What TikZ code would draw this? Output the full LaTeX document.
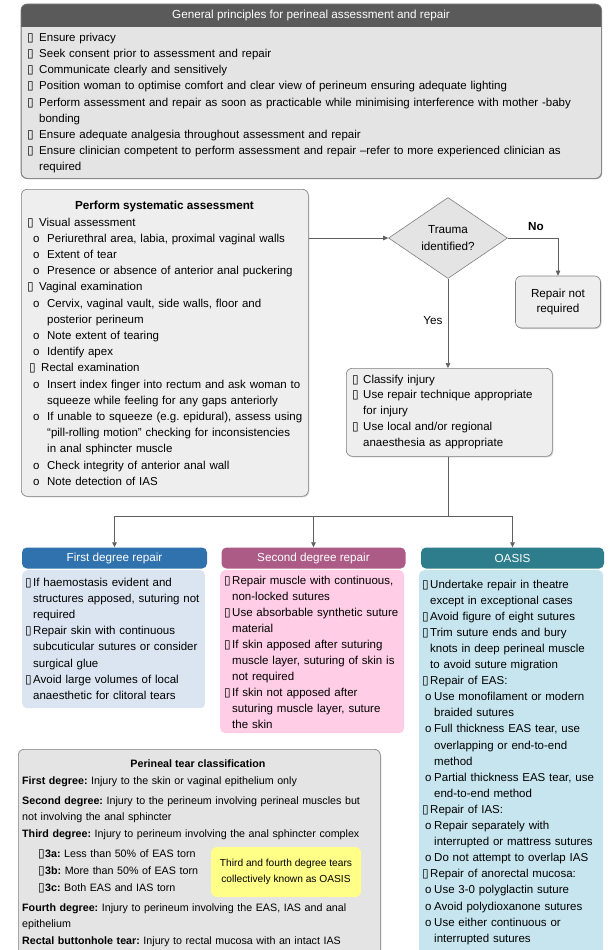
\documentclass[tikz,border=0pt]{standalone}
\usepackage{fontspec}
\setmainfont{Liberation Sans}
\newfontfamily\dvs{DejaVu Sans}
\usetikzlibrary{arrows.meta,shapes.geometric,shadows}
\definecolor{hdrgray}{HTML}{5A5A5A}
\definecolor{bodygray}{HTML}{E4E4E4}
\definecolor{boxgray}{HTML}{EEEEEE}
\definecolor{edgegray}{HTML}{7F7F7F}
\definecolor{linegray}{HTML}{606060}
\definecolor{fdh}{HTML}{2F72AD}
\definecolor{fdb}{HTML}{DAE5F1}
\definecolor{sdh}{HTML}{AC5B87}
\definecolor{sdb}{HTML}{FFCDE6}
\definecolor{oah}{HTML}{2D7D8C}
\definecolor{oab}{HTML}{C7E5EE}
\definecolor{yel}{HTML}{FFFF88}
\newlength\lbw \newlength\lo \newlength\lsw
\newcommand\bxg{{\dvs\fontsize{12}{12}\selectfont ▯}}
\newcommand\pli[1]{\hangindent=\lbw\hangafter=1\noindent\makebox[\lbw][l]{\bxg}#1\par}
\newcommand\pliO[2]{\hangindent=\dimexpr\lbw+#1\relax\hangafter=1\noindent\hspace*{#1}\makebox[\lbw][l]{\bxg}#2\par}
\newcommand\plii[1]{\hangindent=\dimexpr\lo+\lsw\relax\hangafter=1\noindent\hspace*{\lo}\makebox[\lsw][l]{o}#1\par}
\newcommand\nl{\newline}
\tikzset{
  graybox/.style={draw=edgegray, line width=0.6pt, rounded corners=6pt, inner sep=0pt,
    drop shadow={shadow xshift=1pt, shadow yshift=-1pt, opacity=0.35}},
  txt/.style={anchor=base west, inner sep=0pt, text width=#1, align=left,
    font=\frenchspacing\fontsize{11.5}{16.2}\selectfont},
  ctxt/.style={anchor=base west, inner sep=0pt, text width=#1, align=left,
    font=\frenchspacing\fontsize{10.7}{16}\selectfont},
  hdr/.style={rounded corners=5pt, minimum height=21, inner sep=0pt, text=white,
    font=\fontsize{11.7}{14}\selectfont},
  bodybox/.style={rounded corners=5pt, inner sep=0pt, anchor=north west},
  ln/.style={draw=linegray, line width=0.7pt},
  arr/.style={ln, -{Triangle[length=5pt,width=4.5pt]}},
  lbl/.style={inner sep=0pt, font=\fontsize{11.7}{14}\selectfont}
}
\begin{document}
\frenchspacing
\begin{tikzpicture}[x=1pt,y=-1pt]
\fill[white] (0,0) rectangle (608,950);
\useasboundingbox (0,0) rectangle (608,950);

% ---------- General principles ----------
\node[graybox, fill=bodygray, minimum width=580, minimum height=174, anchor=north west] (gp) at (21,4) {};
\begin{scope}
\clip[rounded corners=6pt] (gp.north west) rectangle (gp.south east);
\fill[hdrgray] (gp.north west) rectangle ([yshift=-23pt]gp.north east);
\end{scope}
\draw[edgegray, line width=0.6pt, rounded corners=6pt] (gp.north west) rectangle (gp.south east);
\node[lbl, text=white] (gptitle) at (311,15.5) {General principles for perineal assessment and repair};
\node[txt=570pt] (gptxt) at (27,41.3) {\setlength\lbw{12pt}%
\pli{Ensure privacy}%
\pli{Seek consent prior to assessment and repair}%
\pli{Communicate clearly and sensitively}%
\pli{Position woman to optimise comfort and clear view of perineum ensuring adequate lighting}%
\pli{Perform assessment and repair as soon as practicable while minimising interference with mother -baby\nl bonding}%
\pli{Ensure adequate analgesia throughout assessment and repair}%
\pli{Ensure clinician competent to perform assessment and repair –refer to more experienced clinician as\nl required}};

% ---------- Systematic assessment ----------
\node[graybox, fill=boxgray, minimum width=287, minimum height=307, anchor=north west] (assess) at (21,189) {};
\node[lbl, anchor=base, font=\bfseries\fontsize{11.7}{14}\selectfont] (astitle) at (164.5,209.5) {Perform systematic assessment};
\node[txt=285pt] (astxt) at (27,226) {\setlength\lbw{12pt}\setlength\lo{6pt}\setlength\lsw{14pt}%
\pli{Visual assessment}%
\plii{Periurethral area, labia, proximal vaginal walls}%
\plii{Extent of tear}%
\plii{Presence or absence of anterior anal puckering}%
\pli{Vaginal examination}%
\plii{Cervix, vaginal vault, side walls, floor and\nl posterior perineum}%
\plii{Note extent of tearing}%
\plii{Identify apex}%
\pliO{2pt}{Rectal examination}%
\plii{Insert index finger into rectum and ask woman to\nl squeeze while feeling for any gaps anteriorly}%
\plii{If unable to squeeze (e.g. epidural), assess using\nl “pill-rolling motion” checking for inconsistencies\nl in anal sphincter muscle}%
\plii{Check integrity of anterior anal wall}%
\plii{Note detection of IAS}};

% ---------- Decision ----------
\node[diamond, draw=edgegray, line width=0.6pt, fill=bodygray, minimum width=119, minimum height=81,
  inner sep=0pt, align=center, font=\fontsize{11.7}{17}\selectfont] (trauma) at (448,238) {Trauma\\identified?};
\node[lbl, font=\bfseries\fontsize{11.7}{14}\selectfont] (nolab) at (536,227) {No};
\node[graybox, fill=boxgray, minimum width=85, minimum height=52, align=center,
  font=\fontsize{11.7}{15.5}\selectfont] (norep) at (558,302) {Repair not\\required};
\node[lbl] (yeslab) at (433,321) {Yes};

\node[graybox, fill=boxgray, minimum width=206, minimum height=88, anchor=north west] (classify) at (346,368) {};
\node[txt=200pt, font=\fontsize{11.5}{15.9}\selectfont] (cltxt) at (352,383) {\setlength\lbw{11pt}%
\pli{Classify injury}%
\pli{Use repair technique appropriate\nl for injury}%
\pli{Use local and/or regional\nl anaesthesia as appropriate}};

% ---------- Repair headers ----------
\node[hdr, fill=fdh, minimum width=185] (h1) at (114.5,558) {First degree repair};
\node[hdr, fill=sdh, minimum width=184] (h2) at (313.5,558) {Second degree repair};
\node[hdr, fill=oah, minimum width=183] (h3) at (512.5,558) {OASIS};

% ---------- Connectors ----------
\draw[arr] (assess.east |- trauma.west) -- (trauma.west);
\draw[arr] (trauma.east) -| (norep.north);
\draw[arr] (trauma.south) -- (trauma.south |- classify.north);
\coordinate (split) at (448,516);
\draw[ln] (classify.south -| split) -- (split);
\draw[ln] (h1.north |- split) -- (h3.north |- split);
\draw[arr] (h1.north |- split) -- (h1.north);
\draw[arr] (h2.north |- split) -- (h2.north);
\draw[arr] (h3.north |- split) -- (h3.north);

% ---------- Repair bodies ----------
\node[bodybox, fill=fdb, minimum width=183, minimum height=138] (b1) at (22,570) {};
\node[txt=180pt] (b1txt) at (25,586) {\setlength\lbw{8pt}%
\pli{If haemostasis evident and\nl structures apposed, suturing not\nl required}%
\pli{Repair skin with continuous\nl subcuticular sutures or consider\nl surgical glue}%
\pli{Avoid large volumes of local\nl anaesthetic for clitoral tears}};

\node[bodybox, fill=sdb, minimum width=184, minimum height=163] (b2) at (220,570) {};
\node[txt=180pt, font=\frenchspacing\fontsize{11.5}{16.1}\selectfont] (b2txt) at (224,584) {\setlength\lbw{8pt}%
\pli{Repair muscle with continuous,\nl non-locked sutures}%
\pli{Use absorbable synthetic suture\nl material}%
\pli{If skin apposed after suturing\nl muscle layer, suturing of skin is\nl not required}%
\pli{If skin not apposed after\nl suturing muscle layer, suture\nl the skin}};

\node[bodybox, fill=oab, minimum width=184, minimum height=395] (b3) at (419,570) {};
\node[txt=182pt, font=\frenchspacing\fontsize{11.5}{16.1}\selectfont] (b3txt) at (422,588) {\setlength\lbw{8pt}\setlength\lo{3pt}\setlength\lsw{9pt}%
\pli{Undertake repair in theatre\nl except in exceptional cases}%
\pli{Avoid figure of eight sutures}%
\pli{Trim suture ends and bury\nl knots in deep perineal muscle\nl to avoid suture migration}%
\pli{Repair of EAS:}%
\plii{Use monofilament or modern\nl braided sutures}%
\plii{Full thickness EAS tear, use\nl overlapping or end-to-end\nl method}%
\plii{Partial thickness EAS tear, use\nl end-to-end method}%
\pli{Repair of IAS:}%
\plii{Repair separately with\nl interrupted or mattress sutures}%
\plii{Do not attempt to overlap IAS}%
\pli{Repair of anorectal mucosa:}%
\plii{Use 3-0 polyglactin suture}%
\plii{Avoid polydioxanone sutures}%
\plii{Use either continuous or\nl interrupted sutures}};

% ---------- Classification ----------
\node[graybox, fill=bodygray, minimum width=362, minimum height=215, anchor=north west] (ptc) at (18,749) {};
\node[lbl, anchor=base, font=\bfseries\fontsize{10.7}{14}\selectfont] (ptctitle) at (198,767) {Perineal tear classification};
\node[ctxt=358pt] (c1) at (22,784) {\textbf{First degree:} Injury to the skin or vaginal epithelium only};
\node[ctxt=358pt] (c2) at (22,804) {\textbf{Second degree:} Injury to the perineum involving perineal muscles but\newline not involving the anal sphincter};
\node[ctxt=358pt] (c3) at (22,837) {\textbf{Third degree:} Injury to perineum involving the anal sphincter complex};
\node[ctxt=170pt, font=\frenchspacing\fontsize{10.7}{17}\selectfont] (c4) at (38,857) {\setlength\lbw{7pt}%
\pli{\textbf{3a:} Less than 50\% of EAS torn}%
\pli{\textbf{3b:} More than 50\% of EAS torn}%
\pli{\textbf{3c:} Both EAS and IAS torn}};
\node[ctxt=358pt] (c5) at (22,911) {\textbf{Fourth degree:} Injury to perineum involving the EAS, IAS and anal\newline epithelium};
\node[ctxt=358pt] (c6) at (22,944) {\textbf{Rectal buttonhole tear:} Injury to rectal mucosa with an intact IAS};
\node[fill=yel, rounded corners=6pt, minimum width=150, minimum height=50, inner sep=0pt, align=center,
  font=\fontsize{10.2}{16}\selectfont] (oasnote) at (286,872) {Third and fourth degree tears\\collectively known as OASIS};
\end{tikzpicture}
\end{document}
